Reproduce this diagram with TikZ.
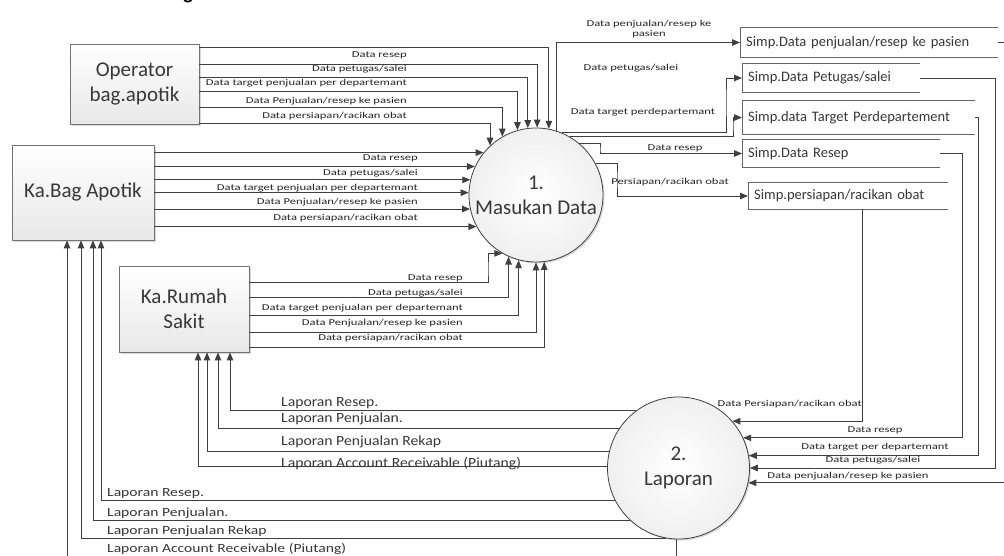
\documentclass[tikz,border=0pt]{standalone}
\usepackage{fontspec}
\setmainfont{Carlito}
\newfontfamily\lblfont[FakeStretch=1.4]{Carlito}
\newfontfamily\lapAfont[FakeStretch=1.12]{Carlito}
\newfontfamily\lapBfont[FakeStretch=1.25]{Carlito}
\usetikzlibrary{arrows.meta,shadows}
\definecolor{ln}{HTML}{404040}
\definecolor{tx}{HTML}{383838}
\begin{document}
\begin{tikzpicture}[x=1pt,y=-1pt,
  conn/.style={draw=ln, line width=1pt, -{Triangle[length=8pt,width=6.5pt]}},
  storeln/.style={draw=black!60, line width=0.8pt},
  ent/.style={rectangle, draw=black!55, line width=0.8pt, top color=white, bottom color=black!9,
    drop shadow={shadow xshift=1.5pt,shadow yshift=-1.5pt,opacity=0.3},
    font=\fontsize{21}{25}\selectfont, text=tx, align=center, inner sep=0pt},
  proc/.style={circle, draw=black!75, line width=0.8pt, inner color=white, outer color=black!6,
    drop shadow={shadow xshift=1.5pt,shadow yshift=-1.5pt,opacity=0.3},
    font=\fontsize{21}{25}\selectfont, text=tx, align=center, inner sep=0pt},
  store/.style={rectangle, inner xsep=6pt, inner ysep=0pt, anchor=west,
    font=\fontsize{14.5}{16}\selectfont, text=tx, align=left},
  lbl/.style={font=\lblfont\fontsize{9}{10}\selectfont, text=black!85, inner sep=0pt, align=center},
  lapA/.style={font=\lapAfont\fontsize{14}{16}\selectfont, text=tx, inner sep=0pt, anchor=base west},
  lapB/.style={font=\lapBfont\fontsize{12.5}{14}\selectfont, text=tx, inner sep=0pt, anchor=base west},
]
\useasboundingbox (0,0) rectangle (1004,555);
\clip (0,0) rectangle (1004,555);
\fill[white] (0,0) rectangle (1004,555);

% title remnant
\node[font=\bfseries\fontsize{20}{20}\selectfont, anchor=base, inner sep=0pt] (ttl) at (188,-1) {g};

% external entities
\node[ent, minimum width=129pt, minimum height=80pt] (op) at (134.5,84) {Operator\\bag.apotik};
\node[ent, minimum width=142pt, minimum height=95pt] (kb) at (83,192.5) {Ka.Bag Apotik};
\node[ent, minimum width=130pt, minimum height=86pt] (rs) at (184,309) {Ka.Rumah\\Sakit};

% processes
\node[proc, minimum size=134pt] (c1) at (536,195) {1.\\Masukan Data};
\node[proc, minimum size=142pt] (c2) at (678.5,468) {2.\\Laporan};

% data stores
\node[store, text width=246pt, minimum height=29pt] (s1) at (740,42.5) {Simp.Data penjualan/resep ke pasien};
\node[store, text width=166pt, minimum height=28pt] (s2) at (742,78) {Simp.Data Petugas/salei};
\node[store, text width=221pt, minimum height=33pt] (s3) at (742,117.5) {Simp.data Target Perdepartement};
\node[store, text width=186pt, minimum height=27pt] (s4) at (742,153.5) {Simp.Data Resep};
\node[store, text width=188pt, minimum height=26pt] (s5) at (748,196) {Simp.persiapan/racikan obat};
\foreach \s in {s1,s2,s3,s4,s5}{
  \draw[storeln] (\s.north east) -- (\s.north west) -- (\s.south west) -- (\s.south east);
}

% Operator -> 1
\draw[conn] (op.east|-0,47) -| (c1.79.7);
\draw[conn] (op.east|-0,64) -| (c1.89.1);
\draw[conn] (op.east|-0,77) -| (c1.97.7);
\draw[conn] (op.east|-0,91) -| (c1.106.5);
\draw[conn] (op.east|-0,107) -| (c1.120.5);
\draw[conn] (op.east|-0,123) -| (c1.133.4);
\node[lbl, anchor=east] (lo1) at (407,55) {Data resep};
\node[lbl, anchor=east] (lo2) at (407,69) {Data petugas/salei};
\node[lbl, anchor=east] (lo3) at (407,83) {Data target penjualan per departemant};
\node[lbl, anchor=east] (lo4) at (407,101) {Data Penjualan/resep ke pasien};
\node[lbl, anchor=east] (lo5) at (407,116) {Data persiapan/racikan obat};

% Ka.Bag -> 1
\draw[conn] (kb.east|-c1.141.2) -- (c1.141.2);
\draw[conn] (kb.east|-c1.155.3) -- (c1.155.3);
\draw[conn] (kb.east|-c1.167.1) -- (c1.167.1);
\draw[conn] (kb.east|-c1.178.3) -- (c1.178.3);
\draw[conn] (kb.east|-c1.192.9) -- (c1.192.9);
\draw[conn] (kb.east|-c1.208.5) -- (c1.208.5);
\node[lbl, anchor=east] (lk1) at (418,158) {Data resep};
\node[lbl, anchor=east] (lk2) at (418,173) {Data petugas/salei};
\node[lbl, anchor=east] (lk3) at (418,188) {Data target penjualan per departemant};
\node[lbl, anchor=east] (lk4) at (418,202) {Data Penjualan/resep ke pasien};
\node[lbl, anchor=east] (lk5) at (418,218) {Data persiapan/racikan obat};

% Ka.Rumah Sakit -> 1
\draw[conn] (rs.east|-0,282) -| (488,270) |- (c1.240);
\draw[conn] (rs.east|-0,297) -| (c1.246.2);
\draw[conn] (rs.east|-0,315) -| (c1.255.3);
\draw[conn] (rs.east|-0,332) -| (c1.270.9);
\draw[conn] (rs.east|-0,347) -| (c1.277.7);
\node[lbl, anchor=east] (lr1) at (463,278) {Data resep};
\node[lbl, anchor=east] (lr2) at (463,293) {Data petugas/salei};
\node[lbl, anchor=east] (lr3) at (463,308) {Data target penjualan per departemant};
\node[lbl, anchor=east] (lr4) at (463,323) {Data Penjualan/resep ke pasien};
\node[lbl, anchor=east] (lr5) at (463,338) {Data persiapan/racikan obat};

% 1 -> stores
\draw[conn] (c1.72.6) |- (s1.west);
\draw[conn] (c1.67.7) -| (726,100) |- (s2.west);
\draw[conn] (c1.60) -| (733,125) |- (s3.west);
\draw[conn] (c1.50.9) -| (600,150) |- (s4.west);
\draw[conn] (c1.28.5) -| (617,180) |- (s5.west);
\node[lbl] (ls1) at (649,29) {Data penjualan/resep ke\\pasien};
\node[lbl] (ls2) at (631,68) {Data petugas/salei};
\node[lbl] (ls3) at (643,112) {Data target perdepartemant};
\node[lbl] (ls4) at (675,148) {Data resep};
\node[lbl] (ls5) at (670,182) {Persiapan/racikan obat};

% stores -> 2
\draw[conn] (s1.east) -| (1015,300) |- (c2.-12.2);
\draw[conn] (s2.east) -| (995,300) |- (c2.0);
\draw[conn] (s3.east) -| (978,300) |- (c2.10.5);
\draw[conn] (s4.east) -| (962,300) |- (c2.25);
\draw[conn] (s5.south-|862,0) -- (862,300) |- (c2.41.5);
\node[lbl, anchor=east] (lt1) at (862,404) {Data Persiapan/racikan obat};
\node[lbl] (lt2) at (875,430) {Data resep};
\node[lbl] (lt3) at (875,447) {Data target per departemant};
\node[lbl] (lt4) at (873,460) {Data petugas/salei};
\node[lbl] (lt5) at (848,476) {Data penjualan/resep ke pasien};

% 2 -> Ka.Rumah Sakit
\draw[conn] (c2.127.9) -| (rs.south-|230,0);
\draw[conn] (c2.146.7) -| (rs.south-|218,0);
\draw[conn] (c2.167) -| (rs.south-|207,0);
\draw[conn] (c2.179.2) -| (rs.south-|198,0);
\node[lapA] (la1) at (281,406.5) {Laporan Resep.};
\node[lapA] (la2) at (281,422.5) {Laporan Penjualan.};
\node[lapA] (la3) at (281,445.5) {Laporan Penjualan Rekap};
\node[lapA] (la4) at (281,467.5) {Laporan Account Receivable (Piutang)};

% 2 -> Ka.Bag Apotik
\draw[conn] (c2.207.7) -| (kb.south-|101,0);
\draw[conn] (c2.227.1) -| (kb.south-|93,0);
\draw[conn] (c2.260.3) -| (kb.south-|81,0);
\draw[conn] (c2.268) -- ++(0,30) -| (kb.south-|67,0);
\node[lapB] (lb1) at (107,496) {Laporan Resep.};
\node[lapB] (lb2) at (107,516) {Laporan Penjualan.};
\node[lapB] (lb3) at (107,534) {Laporan Penjualan Rekap};
\node[lapB] (lb4) at (107,552) {Laporan Account Receivable (Piutang)};
\end{tikzpicture}
\end{document}
